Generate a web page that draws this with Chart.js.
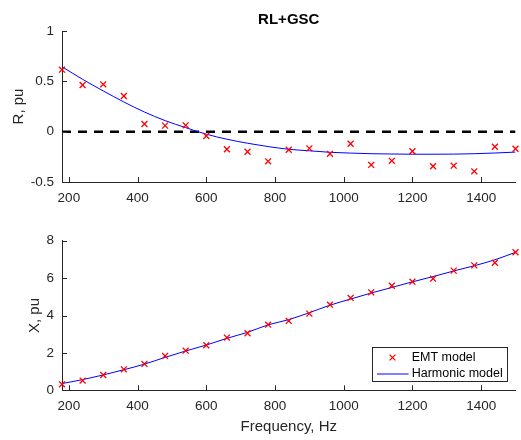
<!DOCTYPE html>
<html>
<head>
<meta charset="utf-8">
<script src="https://cdn.jsdelivr.net/npm/chart.js@4.4.1/dist/chart.umd.min.js"></script>
<style>
  body { margin: 0; background: #fff; }
  #wrap { position: relative; width: 521px; height: 440px; }
  canvas { position: absolute; left: 0; }
</style>
</head>
<body>
<div id="wrap">
  <canvas id="rChart" width="521" height="220" style="top:0"></canvas>
  <canvas id="xChart" width="521" height="220" style="top:220px"></canvas>
</div>
<script>
// Frequencies (Hz) of the samples
const freqs = [180, 240, 300, 360, 420, 480, 540, 600, 660, 720, 780, 840, 900, 960, 1020, 1080, 1140, 1200, 1260, 1320, 1380, 1440, 1500];

// R, pu
const rEmt = [0.616, 0.464, 0.47, 0.354, 0.076, 0.06, 0.063, -0.043, -0.175, -0.2, -0.295, -0.18, -0.166, -0.22, -0.12, -0.33, -0.29, -0.195, -0.344, -0.338, -0.394, -0.15, -0.17];
const rHarm = [0.645, 0.52, 0.405, 0.295, 0.195, 0.11, 0.04, -0.025, -0.075, -0.115, -0.148, -0.175, -0.19, -0.205, -0.213, -0.219, -0.222, -0.224, -0.224, -0.223, -0.219, -0.212, -0.203];

// X, pu
const xEmt = [0.32, 0.52, 0.82, 1.12, 1.41, 1.84, 2.12, 2.41, 2.82, 3.05, 3.51, 3.71, 4.1, 4.58, 4.94, 5.24, 5.59, 5.81, 5.97, 6.4, 6.68, 6.82, 7.38];
const xHarm = [0.36, 0.57, 0.82, 1.1, 1.4, 1.76, 2.1, 2.42, 2.78, 3.1, 3.5, 3.78, 4.15, 4.55, 4.88, 5.2, 5.5, 5.8, 6.08, 6.38, 6.66, 6.98, 7.38];

const freqTicks = [200, 400, 600, 800, 1000, 1200, 1400];
const rTicks = [-0.5, 0, 0.5, 1];
const xTicks = [0, 2, 4, 6, 8];

const axisColor = '#262626';
Chart.defaults.font.family = '"Liberation Sans", Arial, sans-serif';
Chart.defaults.color = axisColor;

const toPts = (ys) => ys.map((y, i) => ({ x: freqs[i], y: y }));

// MATLAB style: ticks pointing into the axes
const inwardTicks = {
  id: 'inwardTicks',
  afterDraw(chart) {
    const { ctx, chartArea, scales } = chart;
    ctx.save();
    ctx.strokeStyle = axisColor;
    ctx.lineWidth = 1;
    ctx.beginPath();
    scales.x.ticks.forEach(t => {
      const px = Math.round(scales.x.getPixelForValue(t.value)) + 0.5;
      ctx.moveTo(px, chartArea.bottom);
      ctx.lineTo(px, chartArea.bottom - 5);
    });
    scales.y.ticks.forEach(t => {
      const py = Math.round(scales.y.getPixelForValue(t.value)) + 0.5;
      ctx.moveTo(chartArea.left, py);
      ctx.lineTo(chartArea.left + 5, py);
    });
    ctx.stroke();
    ctx.restore();
  }
};

function xAxis(height, withTitle) {
  return {
    type: 'linear',
    min: 180,
    max: 1500,
    afterBuildTicks: (s) => { s.ticks = freqTicks.map(v => ({ value: v })); },
    afterFit: (s) => { s.height = height; },
    grid: { display: true, drawOnChartArea: false, drawTicks: false },
    border: { display: true, color: axisColor, width: 1 },
    ticks: { font: { size: 13.5 }, padding: 8, maxRotation: 0, color: axisColor, callback: (v) => String(v) },
    title: {
      display: withTitle,
      text: 'Frequency, Hz',
      font: { size: 15 },
      padding: { top: 0, bottom: 4.3 },
      color: axisColor
    }
  };
}

function yAxis(min, max, ticks, label, titlePad) {
  return {
    type: 'linear',
    min: min,
    max: max,
    afterBuildTicks: (s) => { s.ticks = ticks.map(v => ({ value: v })); },
    afterFit: (s) => { s.width = 62; },
    grid: { display: true, drawOnChartArea: false, drawTicks: false },
    border: { display: true, color: axisColor, width: 1 },
    ticks: { font: { size: 13.5 }, padding: 8, color: axisColor, callback: (v) => String(v) },
    title: {
      display: true,
      text: label,
      font: { size: 15 },
      padding: { top: titlePad, bottom: 0 },
      color: axisColor
    }
  };
}

const emtStyle = {
  showLine: false,
  pointStyle: 'crossRot',
  pointRadius: 4.2,
  pointBorderWidth: 1.3,
  borderColor: '#ff0000',
  backgroundColor: '#ff0000',
  clip: 8,
  order: 0
};

const harmStyle = {
  borderColor: '#0000ff',
  borderWidth: 1,
  pointRadius: 0,
  cubicInterpolationMode: 'monotone',
  order: 1
};

// Top: R
new Chart(document.getElementById('rChart'), {
  type: 'line',
  data: {
    datasets: [
      Object.assign({ label: 'EMT model', data: toPts(rEmt) }, emtStyle),
      Object.assign({ label: 'Harmonic model', data: toPts(rHarm) }, harmStyle),
      {
        label: 'zero',
        data: [{ x: 180, y: 0 }, { x: 1500, y: 0 }],
        borderColor: '#000000',
        borderWidth: 2.5,
        borderDash: [9, 7],
        pointRadius: 0,
        order: 2
      }
    ]
  },
  options: {
    responsive: false,
    animation: false,
    layout: { padding: { top: 31, right: 4, left: 0, bottom: 0 } },
    plugins: { legend: { display: false }, tooltip: { enabled: false } },
    scales: {
      x: xAxis(38, false),
      y: yAxis(-0.5, 1, rTicks, 'R, pu', 10)
    }
  },
  plugins: [inwardTicks, {
    id: 'plotTitle',
    afterDraw(chart) {
      const { ctx, chartArea } = chart;
      ctx.save();
      ctx.font = 'bold 15px "Liberation Sans", Arial, sans-serif';
      ctx.fillStyle = '#000';
      ctx.textAlign = 'center';
      ctx.textBaseline = 'middle';
      ctx.fillText('RL+GSC', (chartArea.left + chartArea.right) / 2, 20);
      ctx.restore();
    }
  }]
});

// Bottom: X
new Chart(document.getElementById('xChart'), {
  type: 'line',
  data: {
    datasets: [
      Object.assign({ label: 'EMT model', data: toPts(xEmt) }, emtStyle),
      Object.assign({ label: 'Harmonic model', data: toPts(xHarm) }, harmStyle)
    ]
  },
  options: {
    responsive: false,
    animation: false,
    layout: { padding: { top: 20.7, right: 4, left: 0, bottom: 0 } },
    plugins: { legend: { display: false }, tooltip: { enabled: false } },
    scales: {
      x: xAxis(49.7, true),
      y: yAxis(0, 8, xTicks, 'X, pu', 26)
    }
  },
  plugins: [inwardTicks, {
    id: 'boxLegend',
    afterDraw(chart) {
      const ctx = chart.ctx;
      const ds = chart.data.datasets;
      ctx.save();
      ctx.fillStyle = '#fff';
      ctx.fillRect(372.5, 127.5, 135, 34);
      ctx.strokeStyle = axisColor;
      ctx.lineWidth = 1;
      ctx.strokeRect(372.5, 127.5, 135, 34);
      // marker entry
      const mx = 392.5, my = 137.5, r = 2.9;
      ctx.strokeStyle = ds[0].borderColor;
      ctx.lineWidth = 1.3;
      ctx.beginPath();
      ctx.moveTo(mx - r, my - r); ctx.lineTo(mx + r, my + r);
      ctx.moveTo(mx - r, my + r); ctx.lineTo(mx + r, my - r);
      ctx.stroke();
      // line entry
      ctx.strokeStyle = ds[1].borderColor;
      ctx.lineWidth = 1;
      ctx.beginPath();
      ctx.moveTo(377, 154); ctx.lineTo(408.5, 154);
      ctx.stroke();
      ctx.fillStyle = '#000';
      ctx.font = '12.5px "Liberation Sans", Arial, sans-serif';
      ctx.textBaseline = 'middle';
      ctx.fillText(ds[0].label, 411.7, 138);
      ctx.fillText(ds[1].label, 411.7, 154);
      ctx.restore();
    }
  }]
});
</script>
</body>
</html>
